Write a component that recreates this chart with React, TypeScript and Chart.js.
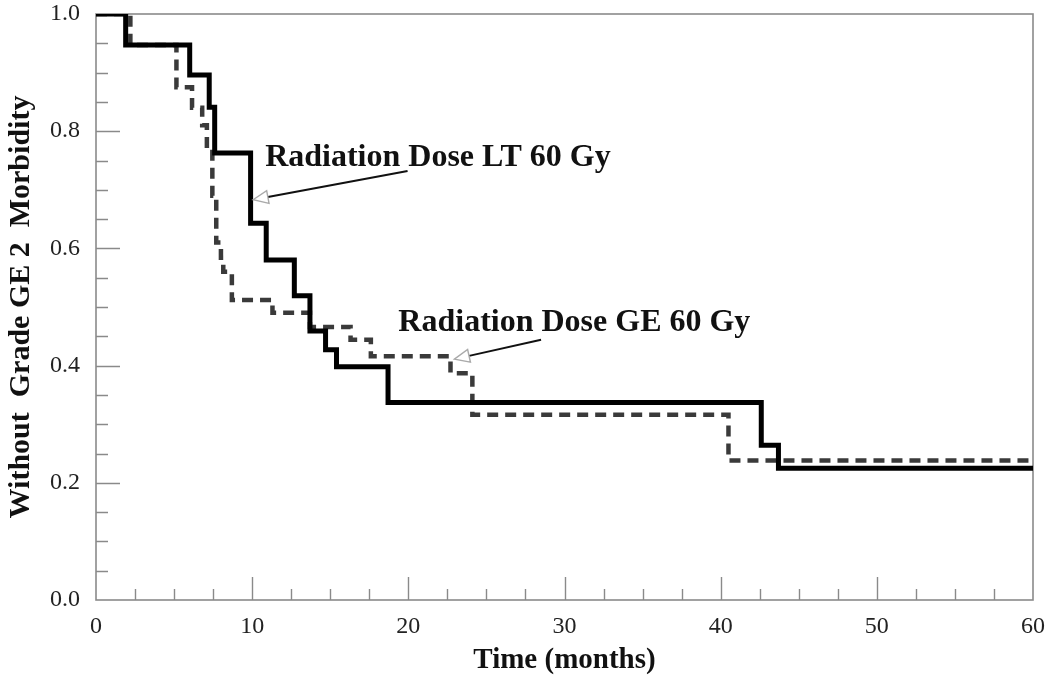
import React, { useEffect, useRef } from "react";
import { Chart, registerables } from "chart.js";

Chart.register(...registerables);

// Kaplan-Meier curves (time in months, proportion without grade >= 2 morbidity)
const timeLT = [0, 1.9, 6.0, 7.25, 7.6, 9.9, 10.9, 12.7, 13.7, 14.7, 15.4, 18.7, 42.6, 43.7, 60];
const survLT = [1.0, 0.947, 0.896, 0.841, 0.763, 0.643, 0.58, 0.519, 0.459, 0.427, 0.398, 0.337, 0.264, 0.225, 0.225];

const timeGE = [0, 2.2, 5.15, 6.15, 6.8, 7.1, 7.45, 7.7, 8.0, 8.15, 8.7, 11.3, 13.7, 16.3, 17.6, 22.7, 24.1, 40.5, 60];
const survGE = [1.0, 0.947, 0.875, 0.84, 0.81, 0.77, 0.69, 0.61, 0.584, 0.56, 0.512, 0.49, 0.466, 0.444, 0.416, 0.387, 0.316, 0.238, 0.238];

const seriesLabels = ["Radiation Dose LT 60 Gy", "Radiation Dose GE 60 Gy"];

const xTickValues = [0, 10, 20, 30, 40, 50, 60];
const yTickLabels = ["0.0", "0.2", "0.4", "0.6", "0.8", "1.0"];

const xTitle = "Time (months)";
const yTitle = "Without  Grade GE 2  Morbidity";

const SERIF = "'Liberation Serif', 'Times New Roman', serif";

function toPoints(xs: number[], ys: number[]) {
  return xs.map((x, i) => ({ x, y: ys[i] }));
}

function zeroPadding(s: any) {
  s.paddingTop = 0;
  s.paddingBottom = 0;
  s.paddingLeft = 0;
  s.paddingRight = 0;
}

const frameAndTicks = {
  id: "frameAndTicks",
  beforeDatasetsDraw(chart: any) {
    const { ctx, chartArea: a, scales } = chart;
    const xs = scales.x;
    const ys = scales.y;
    ctx.save();
    ctx.strokeStyle = "#8a8a8a";
    ctx.lineWidth = 1.6;
    ctx.strokeRect(a.left, a.top, a.right - a.left, a.bottom - a.top);
    ctx.lineWidth = 1.4;
    ctx.beginPath();
    for (let v = 2.5; v < 60; v += 2.5) {
      const px = Math.round(xs.getPixelForValue(v)) + 0.5;
      const major = Math.abs(v % 10) < 1e-6;
      ctx.moveTo(px, a.bottom);
      ctx.lineTo(px, a.bottom - (major ? 23 : 11));
    }
    for (let i = 1; i < 20; i++) {
      const v = i * 0.05;
      const py = Math.round(ys.getPixelForValue(v)) + 0.5;
      const major = i % 4 === 0;
      ctx.moveTo(a.left, py);
      ctx.lineTo(a.left + (major ? 24 : 12), py);
    }
    ctx.stroke();
    ctx.restore();
  },
};

function drawArrow(ctx: CanvasRenderingContext2D, x1: number, y1: number, x2: number, y2: number) {
  const ang = Math.atan2(y2 - y1, x2 - x1);
  const headLen = 15;
  const headHalf = 6.5;
  const bx = x2 - headLen * Math.cos(ang);
  const by = y2 - headLen * Math.sin(ang);
  ctx.strokeStyle = "#111";
  ctx.lineWidth = 2;
  ctx.beginPath();
  ctx.moveTo(x1, y1);
  ctx.lineTo(bx, by);
  ctx.stroke();
  const nx = -Math.sin(ang);
  const ny = Math.cos(ang);
  ctx.fillStyle = "#fff";
  ctx.strokeStyle = "#aaaaaa";
  ctx.lineWidth = 1.4;
  ctx.beginPath();
  ctx.moveTo(x2, y2);
  ctx.lineTo(bx + nx * headHalf, by + ny * headHalf);
  ctx.lineTo(bx - nx * headHalf, by - ny * headHalf);
  ctx.closePath();
  ctx.fill();
  ctx.stroke();
}

const annotations = {
  id: "annotations",
  afterDraw(chart: any) {
    const { ctx, scales } = chart;
    const X = (v: number) => scales.x.getPixelForValue(v);
    const Y = (v: number) => scales.y.getPixelForValue(v);
    const notes = [
      { text: seriesLabels[0], tx: 10.83, ty: 0.741, ax: 19.95, ay: 0.732, hx: 10.06, hy: 0.683 },
      { text: seriesLabels[1], tx: 19.36, ty: 0.459, ax: 28.5, ay: 0.444, hx: 22.95, hy: 0.411 },
    ];
    ctx.save();
    ctx.font = `bold 32px ${SERIF}`;
    ctx.fillStyle = "#111";
    ctx.textAlign = "left";
    ctx.textBaseline = "alphabetic";
    for (const n of notes) {
      ctx.fillText(n.text, X(n.tx), Y(n.ty));
    }
    for (const n of notes) {
      drawArrow(ctx, X(n.ax), Y(n.ay), X(n.hx), Y(n.hy));
    }
    ctx.restore();
  },
};

export default function App() {
  const ref = useRef<HTMLCanvasElement | null>(null);

  useEffect(() => {
    if (!ref.current) return;
    const chart = new Chart(ref.current, {
      type: "line",
      data: {
        datasets: [
          {
            label: seriesLabels[0],
            data: toPoints(timeLT, survLT),
            borderColor: "#000",
            borderWidth: 5,
            stepped: true,
            pointRadius: 0,
            fill: false,
            borderJoinStyle: "miter",
          },
          {
            label: seriesLabels[1],
            data: toPoints(timeGE, survGE),
            borderColor: "#3a3a3a",
            borderWidth: 4.5,
            borderDash: [11, 7],
            stepped: true,
            pointRadius: 0,
            fill: false,
          },
        ],
      },
      options: {
        animation: false,
        responsive: false,
        devicePixelRatio: 1,
        parsing: false,
        layout: { padding: { left: 0, right: 17, top: 14, bottom: 0 } },
        plugins: {
          legend: { display: false },
          tooltip: { enabled: false },
        },
        scales: {
          x: {
            type: "linear",
            min: 0,
            max: 60,
            afterFit: (s: any) => {
              s.height = 82;
              zeroPadding(s);
            },
            afterBuildTicks: (s: any) => {
              s.ticks = xTickValues.map((v) => ({ value: v }));
            },
            grid: { display: false, drawTicks: false },
            border: { display: false },
            ticks: {
              padding: 12,
              color: "#222",
              font: { family: SERIF, size: 24 },
              maxRotation: 0,
            },
            title: {
              display: true,
              text: xTitle,
              color: "#111",
              font: { family: SERIF, size: 29, weight: "bold" },
              padding: { top: 0, bottom: 4 },
            },
          },
          y: {
            type: "linear",
            min: 0,
            max: 1,
            afterFit: (s: any) => {
              s.width = 96;
              zeroPadding(s);
            },
            afterBuildTicks: (s: any) => {
              s.ticks = yTickLabels.map((t) => ({ value: parseFloat(t) }));
            },
            grid: { display: false, drawTicks: false },
            border: { display: false },
            ticks: {
              padding: 16,
              color: "#222",
              font: { family: SERIF, size: 24 },
              callback: (v: any) => Number(v).toFixed(1),
            },
            title: {
              display: true,
              text: yTitle,
              color: "#111",
              font: { family: SERIF, size: 30, weight: "bold" },
              padding: { top: 3, bottom: 0 },
            },
          },
        },
      },
      plugins: [frameAndTicks, annotations],
    });
    return () => chart.destroy();
  }, []);

  return (
    <div style={{ position: "fixed", left: 0, top: 0, width: 1050, height: 682, background: "#fff" }}>
      <canvas ref={ref} width={1050} height={682} style={{ display: "block", width: 1050, height: 682 }} />
    </div>
  );
}
